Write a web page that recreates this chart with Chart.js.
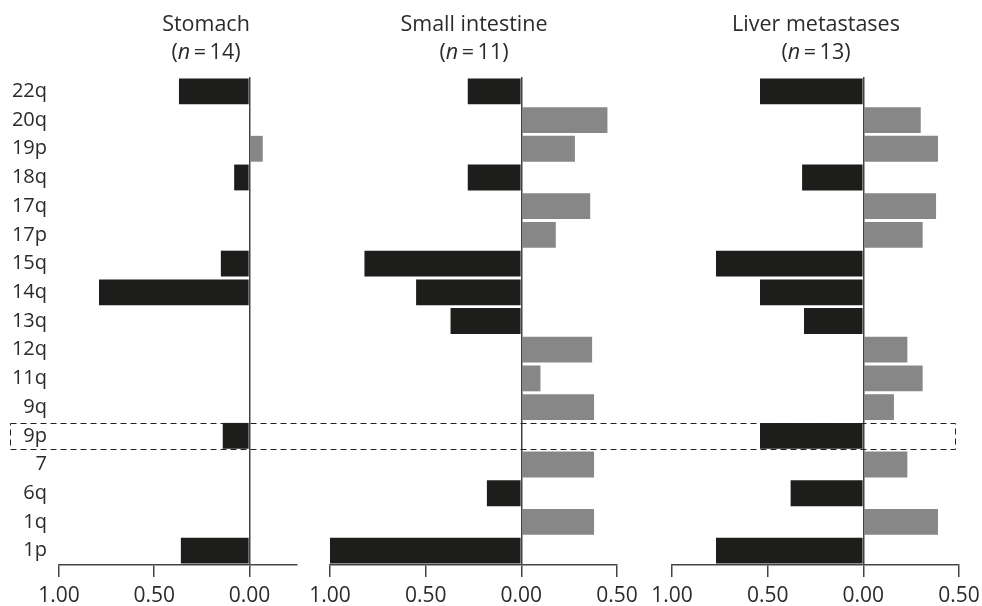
<!DOCTYPE html>
<html>
<head>
<meta charset="utf-8">
<script src="https://cdn.jsdelivr.net/npm/chart.js@4.4.7/dist/chart.umd.min.js"></script>
<style>
  html, body { margin: 0; padding: 0; background: #fff; }
  #wrap { position: relative; width: 982px; height: 606px; overflow: hidden; }
  canvas { position: absolute; top: 0; }
  .title {
    position: absolute; top: 9px; width: 240px; text-align: center;
    font-family: "Open Sans", sans-serif; font-size: 21.5px; line-height: 28px; color: #2b2b2b;
  }
  #overlay { pointer-events: none; left: 0; }
</style>
</head>
<body>
<div id="wrap">
  <canvas id="c1" width="310" height="606" style="left:0"></canvas>
  <canvas id="c2" width="344" height="606" style="left:300px"></canvas>
  <canvas id="c3" width="346" height="606" style="left:640px"></canvas>
  <canvas id="overlay" width="982" height="606"></canvas>
  <div class="title" style="left:86px">Stomach<br>(<i>n</i>&#8201;=&#8201;14)</div>
  <div class="title" style="left:354px">Small intestine<br>(<i>n</i>&#8201;=&#8201;11)</div>
  <div class="title" style="left:696px">Liver metastases<br>(<i>n</i>&#8201;=&#8201;13)</div>
</div>
<script>
// chromosome arms, top to bottom
const arms = ['22q', '20q', '19p', '18q', '17q', '17p', '15q', '14q', '13q', '12q', '11q', '9q', '9p', '7', '6q', '1q', '1p'];

// fraction of cases: negative = loss (black), positive = gain (grey)
const stomach = [-0.37, 0, 0.07, -0.08, 0, 0, -0.15, -0.79, 0, 0, 0, 0, -0.14, 0, 0, 0, -0.36];
const smallIntestine = [-0.28, 0.45, 0.28, -0.28, 0.36, 0.18, -0.82, -0.55, -0.37, 0.37, 0.10, 0.38, 0, 0.38, -0.18, 0.38, -1.00];
const liverMets = [-0.54, 0.30, 0.39, -0.32, 0.38, 0.31, -0.77, -0.54, -0.31, 0.23, 0.31, 0.16, -0.54, 0.23, -0.38, 0.39, -0.77];

const ticksShort = [-1, -0.5, 0];
const ticksLong = [-1, -0.5, 0, 0.5];

const highlightArm = '9p';

const LOSS = '#1d1d1b';
const GAIN = '#878787';
const AXIS = '#444';
const FONT = '"Open Sans", sans-serif';

function makePanel(id, values, opts) {
  return new Chart(document.getElementById(id), {
    type: 'bar',
    data: {
      labels: arms,
      datasets: [{
        data: values,
        backgroundColor: ctx => (ctx.raw < 0 ? LOSS : GAIN),
        borderWidth: 0,
        barPercentage: 0.9,
        categoryPercentage: 1,
      }],
    },
    options: {
      indexAxis: 'y',
      responsive: false,
      animation: false,
      events: [],
      layout: { padding: { top: 77, right: opts.padRight, left: 0, bottom: 0 } },
      plugins: { legend: { display: false }, tooltip: { enabled: false } },
      scales: {
        x: {
          min: -1,
          max: opts.max,
          afterBuildTicks: s => { s.ticks = opts.ticks.map(v => ({ value: v })); },
          afterFit: s => { s.height = 41; },
          border: { display: true, color: AXIS, width: 1.5 },
          grid: {
            drawOnChartArea: true,
            color: ctx => (ctx.tick && ctx.tick.value === 0 ? AXIS : 'rgba(0,0,0,0)'),
            lineWidth: 1.5,
            drawTicks: true,
            tickLength: 12,
            tickColor: AXIS,
            tickWidth: 1.5,
          },
          ticks: {
            color: '#2b2b2b',
            font: { family: FONT, size: 21 },
            padding: 6,
            maxRotation: 0,
            callback: v => Math.abs(v).toFixed(2),
          },
        },
        y: {
          afterFit: s => { s.width = opts.yWidth; },
          border: { display: false },
          grid: { display: false, drawTicks: false },
          ticks: {
            display: opts.showLabels,
            color: '#2b2b2b',
            font: { family: FONT, size: 20 },
            padding: 12,
          },
        },
      },
    },
  });
}

const p1 = makePanel('c1', stomach, { max: 0.25, ticks: ticksShort, yWidth: 59, padRight: 13, showLabels: true });
const p2 = makePanel('c2', smallIntestine, { max: 0.5, ticks: ticksLong, yWidth: 30, padRight: 27, showLabels: false });
const p3 = makePanel('c3', liverMets, { max: 0.5, ticks: ticksLong, yWidth: 32, padRight: 27, showLabels: false });

// dashed box around the highlighted arm, spanning all three panels
const hiBar = p3.getDatasetMeta(0).data[arms.indexOf(highlightArm)];
const octx = document.getElementById('overlay').getContext('2d');
const boxTop = Math.round(hiBar.y - hiBar.height / 2) + 0.5;
const boxH = Math.round(hiBar.height);
octx.setLineDash([6, 4]);
octx.strokeStyle = '#222';
octx.lineWidth = 1;
octx.strokeRect(10.5, boxTop, 945, boxH);
</script>
</body>
</html>
